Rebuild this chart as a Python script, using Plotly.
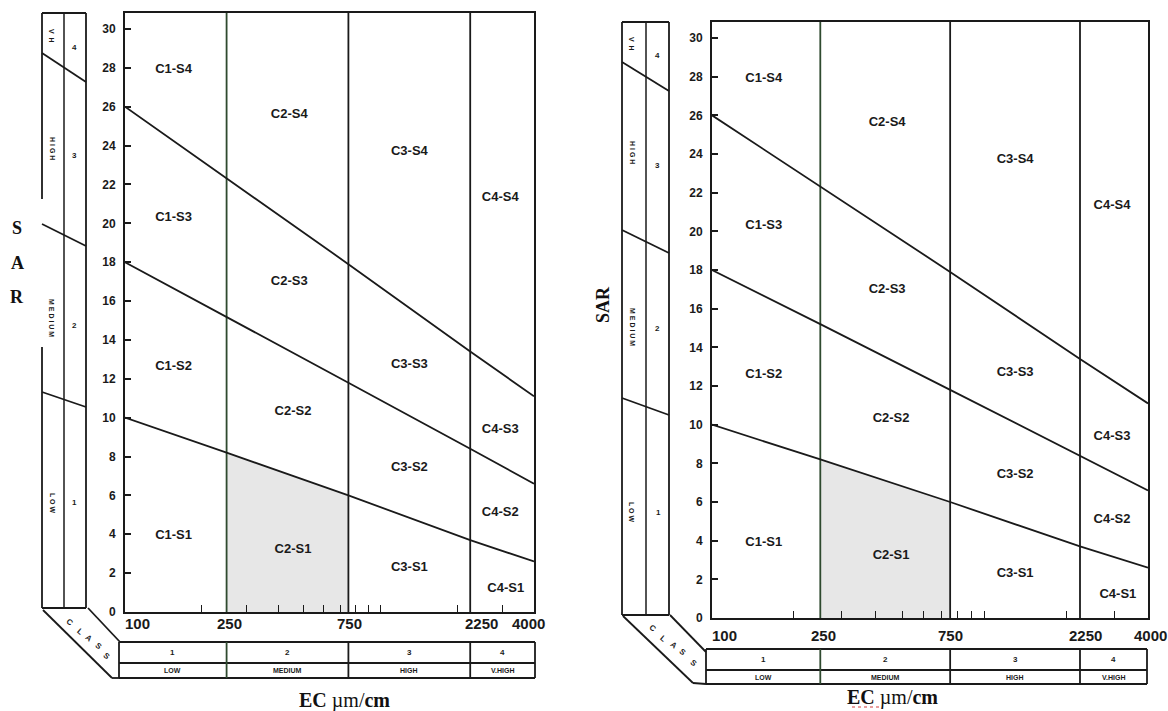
import numpy as np
import plotly.graph_objects as go

W, H = 1168, 711

# ---- data -------------------------------------------------------------
# EC points (µm/cm) at which the sodium-hazard boundaries are given
ec_pts = [100, 250, 750, 2250, 4000]
# SAR boundary lines between sodium classes
sar_s1_s2 = [10.0, 8.2, 6.0, 3.7, 2.6]
sar_s2_s3 = [18.0, 15.2, 11.8, 8.4, 6.6]
sar_s3_s4 = [26.0, 22.3, 17.9, 13.4, 11.1]

# salinity class limits (EC)
ec_class_limits = [250, 750, 2250]
ec_tick_labels = [100, 250, 750, 2250, 4000]
ec_minor_ticks = [200, 300, 400, 500, 600, 700, 800, 900, 1000, 2000, 3000]
sar_ticks = list(range(0, 31, 2))

# zone labels
zone_names = ["C1-S4", "C2-S4", "C3-S4", "C4-S4",
              "C1-S3", "C2-S3", "C3-S3", "C4-S3",
              "C1-S2", "C2-S2", "C3-S2", "C4-S2",
              "C1-S1", "C2-S1", "C3-S1", "C4-S1"]
zone_ec = [155, 440, 1300, 2950,
           155, 440, 1300, 2950,
           155, 455, 1300, 2950,
           155, 455, 1300, 3100]
zone_sar = [27.9, 25.6, 23.7, 21.3,
            20.3, 17.0, 12.7, 9.4,
            12.6, 10.3, 7.4, 5.1,
            3.9, 3.2, 2.3, 1.2]

salinity_class_nums = ["1", "2", "3", "4"]
salinity_class_names = ["LOW", "MEDIUM", "HIGH", "V.HIGH"]
sodium_class_labels = ["V  H", "H I G H", "M E D I U M", "L O W"]
sodium_class_nums = ["4", "3", "2", "1"]
class_word = list("CLASS")

# ---- page geometry (pixels) for the two copies of the diagram ---------
panels = [
    dict(sx="", x0=125, x1=534, ybot=612, ytop=13, y30=29,
         col=dict(xl=42, xm=64, xr=86, top=13, bot=608,
                  diags=[(53, 82), (224, 246), (392, 407)], gap=(199, 347)),
         band_lo=((43, 610), (112, 678)), band_up=((88, 608), (120, 642)),
         table=dict(l=119, r=535, top=642, mid=663, bot=678),
         class_xy=[(70, 622), (80, 631), (89, 638), (99, 646), (107, 656)],
         sod_lab_xy=[(52, 36), (52, 148), (52, 318), (52, 503)],
         sod_num_xy=[(74, 47), (74, 155), (74, 325), (74, 503)],
         tick_y=623, tick_shift=[-2, 3, 1, 11, -6],
         ec_title=(344, 700), sar_mode="stack"),
    dict(sx="2", x0=712, x1=1148, ybot=618, ytop=22, y30=38,
         col=dict(xl=622, xm=646, xr=669, top=22, bot=615,
                  diags=[(62, 91), (230, 253), (398, 415)], gap=None),
         band_lo=((623, 616), (693, 683)), band_up=((670, 615), (706, 652)),
         table=dict(l=706, r=1147, top=649, mid=670, bot=684),
         class_xy=[(653, 628), (663, 638), (674, 645), (683, 652), (694, 663)],
         sod_lab_xy=[(632, 44), (632, 152), (632, 327), (632, 512)],
         sod_num_xy=[(657, 55), (657, 165), (657, 328), (658, 512)],
         tick_y=635, tick_shift=[-2, 3, 0, 5, 2],
         ec_title=(892, 697), sar_mode="rotated"),
]

INK = "#1a1a1a"
GREEN_INK = "#2f4a2f"
SANS = "Liberation Sans, Arial, sans-serif"
SERIF = "Liberation Serif, Times New Roman, serif"


def fx(x):
    return x / W


def fy(y):
    return 1 - y / H


def pline(x0, y0, x1, y1, color=INK, width=1.8):
    return dict(type="line", xref="paper", yref="paper",
                x0=fx(x0), y0=fy(y0), x1=fx(x1), y1=fy(y1),
                line=dict(color=color, width=width))


def ptext(x, y, text, size=8, angle=0, family=SANS, bold=True, color=INK):
    return dict(x=fx(x), y=fy(y), xref="paper", yref="paper",
                text=f"<b>{text}</b>" if bold else text,
                showarrow=False, textangle=angle, xanchor="center", yanchor="middle",
                font=dict(family=family, size=size, color=color))


fig = go.Figure()
shapes, annotations = [], []
log_lo, log_hi = np.log10(ec_pts[0]), np.log10(ec_pts[-1])

for p in panels:
    xa, ya = "x" + p["sx"], "y" + p["sx"]
    y_top = 30 * (p["ybot"] - p["ytop"]) / (p["ybot"] - p["y30"])
    i250, i750 = ec_pts.index(250), ec_pts.index(750)

    # shaded C2-S1 zone
    fig.add_trace(go.Scatter(
        x=[250, 250, 750, 750, 250], y=[0, sar_s1_s2[i250], sar_s1_s2[i750], 0, 0],
        mode="lines", fill="toself", fillcolor="#e7e7e7", line=dict(width=0),
        xaxis=xa, yaxis=ya, hoverinfo="skip"))

    # salinity class limits
    for v in ec_class_limits:
        fig.add_trace(go.Scatter(
            x=[v, v], y=[0, y_top], mode="lines",
            line=dict(color=GREEN_INK if v == 250 else INK, width=1.8),
            xaxis=xa, yaxis=ya, hoverinfo="skip"))

    # sodium hazard boundaries
    for sar in (sar_s1_s2, sar_s2_s3, sar_s3_s4):
        fig.add_trace(go.Scatter(
            x=ec_pts, y=sar, mode="lines", line=dict(color=INK, width=1.8),
            xaxis=xa, yaxis=ya, hoverinfo="skip"))

    # zone labels
    fig.add_trace(go.Scatter(
        x=zone_ec, y=zone_sar, mode="text",
        text=[f"<b>{z}</b>" for z in zone_names],
        textfont=dict(family=SANS, size=13, color=INK),
        xaxis=xa, yaxis=ya, hoverinfo="skip"))

    # EC labels under the plot
    for v, sh in zip(ec_tick_labels, p["tick_shift"]):
        annotations.append(dict(
            x=np.log10(v), xref=xa, y=fy(p["tick_y"]), yref="paper",
            text=f"<b>{v}</b>", showarrow=False, yanchor="middle",
            xanchor="left" if v == ec_tick_labels[0] else "center", xshift=sh,
            font=dict(family=SANS, size=15, color=INK)))

    # sodium-class column on the left
    c = p["col"]
    shapes.append(pline(c["xl"], c["top"], c["xr"], c["top"]))
    shapes.append(pline(c["xl"], c["bot"], c["xr"], c["bot"]))
    shapes.append(pline(c["xm"], c["top"], c["xm"], c["bot"], width=1.5))
    shapes.append(pline(c["xr"], c["top"], c["xr"], c["bot"]))
    if c["gap"]:
        shapes.append(pline(c["xl"], c["top"], c["xl"], c["gap"][0]))
        shapes.append(pline(c["xl"], c["gap"][1], c["xl"], c["bot"]))
    else:
        shapes.append(pline(c["xl"], c["top"], c["xl"], c["bot"]))
    for yl, yr in c["diags"]:
        shapes.append(pline(c["xl"], yl, c["xr"], yr))
    for (lx, ly), txt in zip(p["sod_lab_xy"], sodium_class_labels):
        annotations.append(ptext(lx, ly, txt, size=7, angle=90))
    for (nx, ny), txt in zip(p["sod_num_xy"], sodium_class_nums):
        annotations.append(ptext(nx, ny, txt, size=8))

    # CLASS band joining the column and the salinity table
    (a0, a1), (b0, b1) = p["band_lo"], p["band_up"]
    t = p["table"]
    shapes.append(pline(*a0, *a1))
    shapes.append(pline(*b0, *b1))
    shapes.append(pline(a1[0], a1[1], t["l"], t["bot"]))
    for (lx, ly), ch in zip(p["class_xy"], class_word):
        annotations.append(ptext(lx, ly, ch, size=8, angle=40))

    # salinity class table
    for yy in (t["top"], t["mid"], t["bot"]):
        shapes.append(pline(t["l"], yy, t["r"], yy))
    shapes.append(pline(t["l"], t["top"], t["l"], t["bot"]))
    shapes.append(pline(t["r"], t["top"], t["r"], t["bot"]))

    def ec_px(v):
        return p["x0"] + (np.log10(v) - log_lo) / (log_hi - log_lo) * (p["x1"] - p["x0"])

    edges = [t["l"]] + [ec_px(v) for v in ec_class_limits] + [t["r"]]
    for v, ex in zip(ec_class_limits, edges[1:-1]):
        shapes.append(pline(ex, t["top"], ex, t["bot"],
                            color=GREEN_INK if v == 250 else INK))
    for k in range(4):
        cx = (edges[k] + edges[k + 1]) / 2
        annotations.append(ptext(cx, (t["top"] + t["mid"]) / 2, salinity_class_nums[k], size=8))
        annotations.append(ptext(cx, (t["mid"] + t["bot"]) / 2, salinity_class_names[k], size=7))

    # axis titles
    ex_, ey_ = p["ec_title"]
    annotations.append(ptext(ex_, ey_, "<b>EC</b> µm/<b>cm</b>", size=20,
                             family=SERIF, bold=False, color="#111"))
    if p["sar_mode"] == "stack":
        for ch, yy in zip("SAR", (228, 263, 297)):
            annotations.append(ptext(17, yy, ch, size=18, family=SERIF, color="#111"))
    else:
        annotations.append(ptext(603, 305, "SAR", size=18, angle=-90,
                                 family=SERIF, color="#111"))
        shapes.append(dict(type="line", xref="paper", yref="paper",
                           x0=fx(852), y0=fy(707), x1=fx(882), y1=fy(707),
                           line=dict(color="#d23c3c", width=1, dash="dot")))

    # axes
    fig.update_layout({
        ("xaxis" + p["sx"]): dict(
            type="log", range=[log_lo, log_hi], automargin=False,
            domain=[fx(p["x0"]), fx(p["x1"])], anchor=ya,
            showline=True, mirror=True, linecolor=INK, linewidth=2,
            showgrid=False, zeroline=False,
            tickmode="array", tickvals=ec_minor_ticks, ticks="inside",
            ticklen=7, tickwidth=1.3, tickcolor=INK, showticklabels=False),
        ("yaxis" + p["sx"]): dict(
            range=[0, y_top], automargin=False,
            domain=[fy(p["ybot"]), fy(p["ytop"])], anchor=xa,
            showline=True, mirror=True, linecolor=INK, linewidth=2,
            showgrid=False, zeroline=False,
            tickmode="array", tickvals=sar_ticks,
            ticktext=[f"<b>{v}</b>" for v in sar_ticks], ticks="inside",
            ticklen=6, tickwidth=1.5, tickcolor=INK, ticklabelstandoff=5,
            tickfont=dict(family=SANS, size=12, color=INK)),
    })

fig.update_layout(
    width=W, height=H, autosize=False,
    margin=dict(l=0, r=0, t=0, b=0, autoexpand=False),
    paper_bgcolor="white", plot_bgcolor="white",
    showlegend=False, hovermode=False,
    shapes=shapes, annotations=annotations,
)

fig.write_html("out.html", config={"displayModeBar": False})
